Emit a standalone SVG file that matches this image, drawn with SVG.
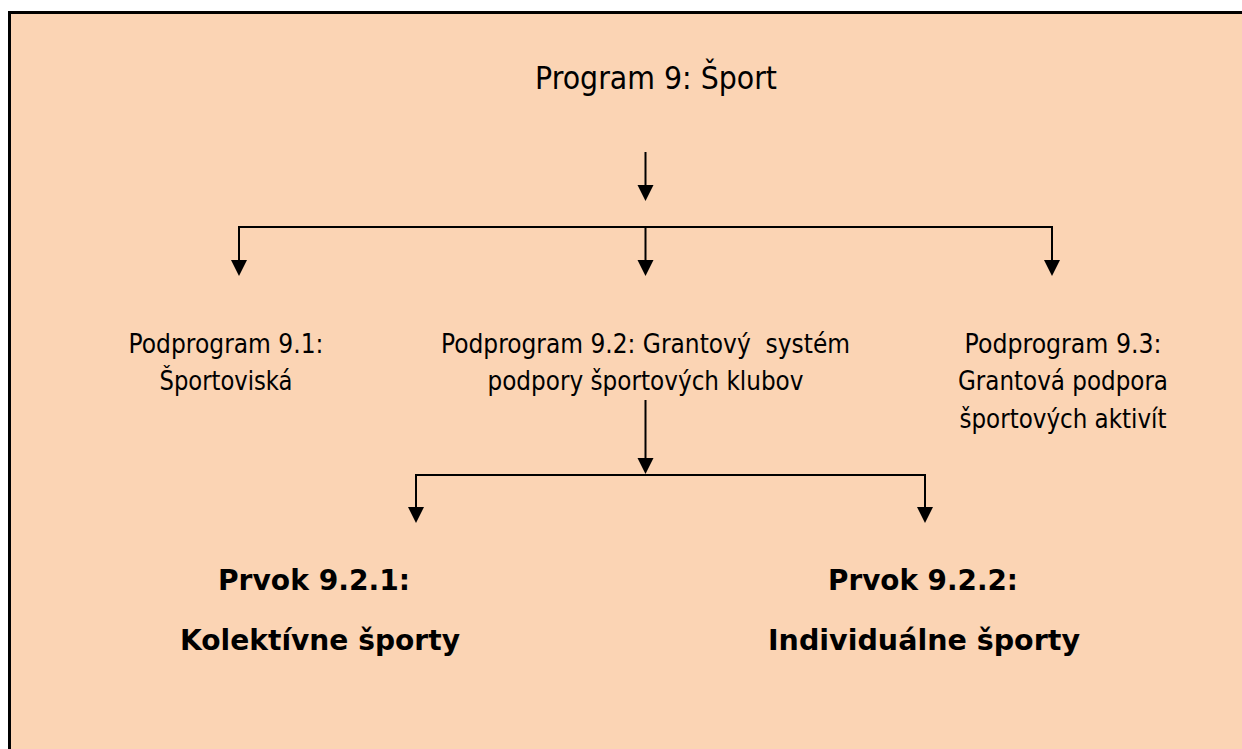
<svg xmlns="http://www.w3.org/2000/svg" width="1242" height="749" viewBox="0 0 1242 749">
  <style>
    .panel { fill: #FBD4B4; stroke: #000000; stroke-width: 3; }
    .lbl { font-family: "DejaVu Sans", Verdana, sans-serif; fill: #000000; text-anchor: middle; white-space: pre; }
    .title { font-size: 32px; }
    .sub { font-size: 26px; }
    .elem { font-size: 29px; font-weight: bold; }
    .wire { fill: none; stroke: #000000; stroke-width: 2; }
  </style>
  <defs>
    <marker id="arrow" markerUnits="userSpaceOnUse" markerWidth="17" markerHeight="17" refX="0" refY="8" orient="auto">
      <path d="M0,0 L16,8 L0,16 Z" fill="#000000"/>
    </marker>
  </defs>

  <rect width="1242" height="749" fill="#FFFFFF"/>
  <!-- framed panel running off the right and bottom edges -->
  <rect class="panel" x="9.5" y="12.5" width="1300" height="800"/>

  <g id="program-9">
    <text class="lbl title" x="656" y="89" textLength="242" lengthAdjust="spacingAndGlyphs">Program 9: Šport</text>
  </g>

  <g id="podprogram-9-1">
    <text class="lbl sub" x="226" y="353" textLength="195" lengthAdjust="spacingAndGlyphs">Podprogram 9.1:</text>
    <text class="lbl sub" x="226" y="390" textLength="133" lengthAdjust="spacingAndGlyphs">Športoviská</text>
  </g>

  <g id="podprogram-9-2">
    <text class="lbl sub" x="645.5" y="353" textLength="409" lengthAdjust="spacingAndGlyphs">Podprogram 9.2: Grantový  systém</text>
    <text class="lbl sub" x="645.5" y="390" textLength="316" lengthAdjust="spacingAndGlyphs">podpory športových klubov</text>
  </g>

  <g id="podprogram-9-3">
    <text class="lbl sub" x="1063" y="353" textLength="197" lengthAdjust="spacingAndGlyphs">Podprogram 9.3:</text>
    <text class="lbl sub" x="1063" y="390" textLength="210" lengthAdjust="spacingAndGlyphs">Grantová podpora</text>
    <text class="lbl sub" x="1063" y="428" textLength="207" lengthAdjust="spacingAndGlyphs">športových aktivít</text>
  </g>

  <g id="prvok-9-2-1">
    <text class="lbl elem" x="314" y="590" textLength="192" lengthAdjust="spacingAndGlyphs">Prvok 9.2.1:</text>
    <text class="lbl elem" x="320" y="650" textLength="280" lengthAdjust="spacingAndGlyphs">Kolektívne športy</text>
  </g>

  <g id="prvok-9-2-2">
    <text class="lbl elem" x="923" y="590" textLength="190" lengthAdjust="spacingAndGlyphs">Prvok 9.2.2:</text>
    <text class="lbl elem" x="924" y="650" textLength="312" lengthAdjust="spacingAndGlyphs">Individuálne športy</text>
  </g>

  <g id="connectors">
    <!-- program to subprograms -->
    <line class="wire" x1="645.5" y1="152" x2="645.5" y2="185" marker-end="url(#arrow)"/>
    <line class="wire" x1="238" y1="227" x2="1053" y2="227"/>
    <line class="wire" x1="239" y1="227" x2="239" y2="260" marker-end="url(#arrow)"/>
    <line class="wire" x1="645.5" y1="227" x2="645.5" y2="260" marker-end="url(#arrow)"/>
    <line class="wire" x1="1052" y1="227" x2="1052" y2="260" marker-end="url(#arrow)"/>
    <!-- subprogram 9.2 to its elements -->
    <line class="wire" x1="645.5" y1="400" x2="645.5" y2="458" marker-end="url(#arrow)"/>
    <line class="wire" x1="415" y1="475" x2="926" y2="475"/>
    <line class="wire" x1="416" y1="475" x2="416" y2="507" marker-end="url(#arrow)"/>
    <line class="wire" x1="925" y1="475" x2="925" y2="507" marker-end="url(#arrow)"/>
  </g>
</svg>
